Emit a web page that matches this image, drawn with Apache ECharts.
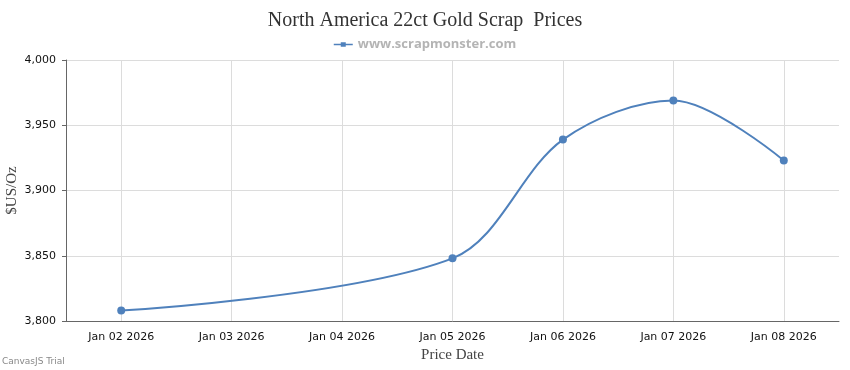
<!DOCTYPE html>
<html>
<head>
<meta charset="utf-8">
<script src="https://cdn.jsdelivr.net/npm/echarts@6/dist/echarts.min.js"></script>
<style>html,body{margin:0;padding:0;background:#fff}#c{width:850px;height:370px}</style>
</head>
<body>
<div id="c"></div>
<script>
var categories = ['Jan 02 2026','Jan 03 2026','Jan 04 2026','Jan 05 2026','Jan 06 2026','Jan 07 2026','Jan 08 2026'];
var prices = [3808, null, null, 3848, 3939, 3969, 3923];
var yTicks = [3800, 3850, 3900, 3950, 4000];
var titleText = 'North America 22ct Gold Scrap  Prices';
var seriesName = 'www.scrapmonster.com';

var chart = echarts.init(document.getElementById('c'), null, {renderer: 'canvas'});
chart.setOption({
  animation: false,
  backgroundColor: '#fff',
  title: {
    text: titleText,
    left: 'center',
    top: 6,
    textStyle: {fontFamily: '"Liberation Serif", "Times New Roman", serif', fontSize: 20, fontWeight: 'normal', color: '#333'}
  },
  legend: {
    top: 33,
    left: 'center',
    data: [{name: seriesName, icon: 'path://M0,8 h38 v3 h-38 z M14,5 h10 v9 h-10 z'}],
    itemWidth: 19,
    itemHeight: 6,
    textStyle: {fontFamily: '"Open Sans", "DejaVu Sans", sans-serif', fontSize: 13, fontWeight: 'bold', color: '#b4b4b4'}
  },
  grid: {left: 66, right: 11, top: 60, bottom: 49, containLabel: false, outerBoundsMode: 'none'},
  xAxis: {
    type: 'category',
    data: categories,
    boundaryGap: true,
    name: 'Price Date',
    nameLocation: 'middle',
    nameGap: 27,
    nameMoveOverlap: false,
    nameTextStyle: {fontFamily: '"Liberation Serif", "Times New Roman", serif', fontSize: 15, color: '#444'},
    axisLine: {lineStyle: {color: '#666', width: 1}},
    axisTick: {alignWithLabel: true, length: 5, lineStyle: {color: '#666'}},
    axisLabel: {fontFamily: '"DejaVu Sans", Verdana, sans-serif', fontSize: 11, color: '#111', margin: 11},
    splitLine: {show: true, alignWithLabel: true, lineStyle: {color: '#dcdcdc', width: 1}}
  },
  yAxis: {
    type: 'value',
    min: yTicks[0],
    max: yTicks[yTicks.length - 1],
    interval: yTicks[1] - yTicks[0],
    name: '$US/Oz',
    nameLocation: 'middle',
    nameGap: 46,
    nameMoveOverlap: false,
    nameTextStyle: {fontFamily: '"Liberation Serif", "Times New Roman", serif', fontSize: 15, color: '#444'},
    axisLine: {show: true, lineStyle: {color: '#666', width: 1}},
    axisTick: {show: true, length: 4, lineStyle: {color: '#666'}},
    axisLabel: {fontFamily: '"DejaVu Sans", Verdana, sans-serif', fontSize: 11, color: '#111', margin: 10,
      formatter: function (v) { return v.toLocaleString('en-US'); }},
    splitLine: {show: true, lineStyle: {color: '#dcdcdc', width: 1}}
  },
  graphic: [{
    type: 'text', left: 2, top: 357,
    style: {text: 'CanvasJS Trial', fontFamily: '"DejaVu Sans", Verdana, sans-serif', fontSize: 9, fill: '#888'}
  }],
  series: [{
    name: seriesName,
    type: 'line',
    data: prices,
    connectNulls: true,
    smooth: 0.33,
    symbol: 'circle',
    symbolSize: 8,
    lineStyle: {color: '#4f81bc', width: 2},
    itemStyle: {color: '#4f81bc'}
  }]
});
</script>
</body>
</html>
